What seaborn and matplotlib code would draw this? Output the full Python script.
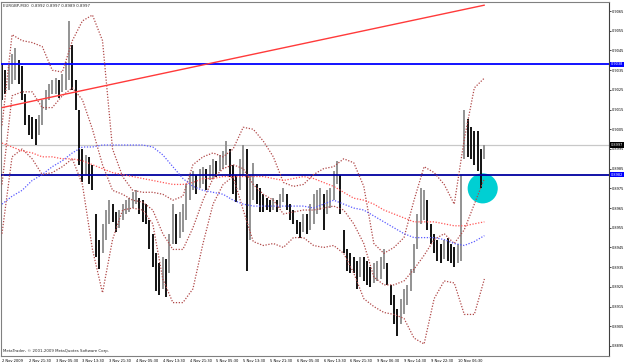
import numpy as np
import matplotlib
matplotlib.use("Agg")
import matplotlib.pyplot as plt
import seaborn as sns

# EURGBP M30 bars (grouped two by two), highs and lows
bar_highs = [0.9038, 0.9035, 0.9038, 0.9043, 0.9046, 0.9040, 0.9037, 0.9023, 0.9012, 0.9011,
             0.9010, 0.9012, 0.9020, 0.9025, 0.9028, 0.9030, 0.9031, 0.9030, 0.9033, 0.9039,
             0.9060, 0.9048, 0.9030, 0.9015, 0.8995, 0.8992, 0.8991, 0.8987, 0.8962, 0.8949,
             0.8957, 0.8964, 0.8969, 0.8967, 0.8963, 0.8964, 0.8967, 0.8969, 0.8970, 0.8973,
             0.8974, 0.8970, 0.8969, 0.8967, 0.8959, 0.8952, 0.8942, 0.8937, 0.8940, 0.8939,
             0.8952, 0.8967, 0.8962, 0.8963, 0.8967, 0.8977, 0.8982, 0.8984, 0.8982, 0.8985,
             0.8986, 0.8985, 0.8987, 0.8990, 0.8989, 0.8992, 0.8994, 0.8999, 0.8995, 0.8987,
             0.8982, 0.8990, 0.8997, 0.8995, 0.8982, 0.8988, 0.8977, 0.8975, 0.8972, 0.8970,
             0.8969, 0.8970, 0.8969, 0.8972, 0.8975, 0.8972, 0.8967, 0.8964, 0.8959, 0.8958,
             0.8962, 0.8962, 0.8967, 0.8972, 0.8974, 0.8975, 0.8972, 0.8974, 0.8975, 0.8984,
             0.8989, 0.8982, 0.8954, 0.8944, 0.8942, 0.8940, 0.8938, 0.8940, 0.8940, 0.8938,
             0.8935, 0.8937, 0.8938, 0.8940, 0.8944, 0.8937, 0.8926, 0.8921, 0.8914, 0.8919,
             0.8924, 0.8926, 0.8934, 0.8947, 0.8962, 0.8975, 0.8974, 0.8969, 0.8957, 0.8952,
             0.8949, 0.8947, 0.8949, 0.8950, 0.8947, 0.8945, 0.8947, 0.8982, 0.9015, 0.9010,
             0.9006, 0.9004, 0.9004, 0.8995, 0.8997]
bar_lows = [0.9020, 0.9023, 0.9025, 0.9028, 0.9030, 0.9028, 0.9020, 0.9007, 0.9002, 0.9000,
            0.8997, 0.9002, 0.9007, 0.9015, 0.9020, 0.9023, 0.9023, 0.9021, 0.9024, 0.9025,
            0.9030, 0.9025, 0.9015, 0.8987, 0.8978, 0.8982, 0.8977, 0.8974, 0.8940, 0.8934,
            0.8942, 0.8949, 0.8957, 0.8958, 0.8953, 0.8955, 0.8959, 0.8962, 0.8963, 0.8965,
            0.8967, 0.8962, 0.8958, 0.8957, 0.8944, 0.8935, 0.8923, 0.8921, 0.8924, 0.8920,
            0.8932, 0.8947, 0.8947, 0.8950, 0.8953, 0.8959, 0.8969, 0.8974, 0.8972, 0.8975,
            0.8977, 0.8974, 0.8979, 0.8980, 0.8981, 0.8984, 0.8985, 0.8987, 0.8981, 0.8972,
            0.8968, 0.8974, 0.8982, 0.8933, 0.8949, 0.8969, 0.8967, 0.8963, 0.8963, 0.8964,
            0.8963, 0.8964, 0.8963, 0.8965, 0.8968, 0.8964, 0.8959, 0.8957, 0.8952, 0.8950,
            0.8953, 0.8952, 0.8954, 0.8957, 0.8962, 0.8964, 0.8954, 0.8962, 0.8965, 0.8969,
            0.8977, 0.8962, 0.8942, 0.8933, 0.8932, 0.8932, 0.8924, 0.8930, 0.8928, 0.8926,
            0.8925, 0.8927, 0.8928, 0.8929, 0.8934, 0.8926, 0.8916, 0.8906, 0.8900, 0.8906,
            0.8911, 0.8916, 0.8923, 0.8932, 0.8944, 0.8957, 0.8959, 0.8954, 0.8947, 0.8942,
            0.8938, 0.8937, 0.8939, 0.8938, 0.8937, 0.8935, 0.8937, 0.8938, 0.8990, 0.8991,
            0.8990, 0.8987, 0.8984, 0.8975, 0.8990]

# bollinger bands and moving averages, one value every third bar
band_upper = [0.9007, 0.9053, 0.9050, 0.9049, 0.9047, 0.9035, 0.9034, 0.9050, 0.9060, 0.9063,
              0.9050, 0.8995, 0.8981, 0.8974, 0.8973, 0.8973, 0.8972, 0.8969, 0.8971, 0.8987,
              0.8991, 0.8993, 0.8991, 0.8995, 0.9006, 0.9005, 0.8999, 0.8991, 0.8978, 0.8976,
              0.8977, 0.8982, 0.8985, 0.8986, 0.8990, 0.8988, 0.8976, 0.8947, 0.8942, 0.8945,
              0.8950, 0.8969, 0.8986, 0.8983, 0.8977, 0.8967, 0.9000, 0.9026, 0.9031]
band_middle = [0.8977, 0.9022, 0.9024, 0.9024, 0.9016, 0.9016, 0.9022, 0.9026, 0.9020, 0.9005,
               0.8987, 0.8974, 0.8972, 0.8969, 0.8968, 0.8964, 0.8952, 0.8944, 0.8944, 0.8955,
               0.8969, 0.8980, 0.8985, 0.8987, 0.8985, 0.8977, 0.8972, 0.8969, 0.8962, 0.8963,
               0.8964, 0.8964, 0.8965, 0.8966, 0.8964, 0.8957, 0.8947, 0.8930, 0.8926, 0.8926,
               0.8928, 0.8934, 0.8941, 0.8949, 0.8952, 0.8947, 0.8954, 0.8967, 0.8980]
band_lower = [0.8952, 0.8991, 0.8995, 0.8990, 0.8982, 0.8983, 0.8986, 0.8990, 0.8977, 0.8944,
              0.8922, 0.8949, 0.8964, 0.8965, 0.8964, 0.8957, 0.8929, 0.8917, 0.8917, 0.8924,
              0.8947, 0.8967, 0.8977, 0.8981, 0.8964, 0.8948, 0.8946, 0.8947, 0.8945, 0.8950,
              0.8950, 0.8946, 0.8945, 0.8946, 0.8942, 0.8932, 0.8919, 0.8915, 0.8912, 0.8911,
              0.8909, 0.8899, 0.8896, 0.8919, 0.8928, 0.8927, 0.8911, 0.8911, 0.8929]
ma_red = [0.8998, 0.8996, 0.8994, 0.8993, 0.8991, 0.8991, 0.8990, 0.8990, 0.8989, 0.8987,
          0.8985, 0.8983, 0.8982, 0.8981, 0.8980, 0.8979, 0.8978, 0.8977, 0.8977, 0.8978,
          0.8980, 0.8980, 0.8981, 0.8981, 0.8981, 0.8981, 0.8981, 0.8980, 0.8979, 0.8980,
          0.8981, 0.8980, 0.8978, 0.8976, 0.8973, 0.8970, 0.8969, 0.8967, 0.8964, 0.8962,
          0.8960, 0.8958, 0.8958, 0.8958, 0.8957, 0.8956, 0.8956, 0.8957, 0.8958]
ma_blue = [0.8967, 0.8971, 0.8974, 0.8979, 0.8982, 0.8986, 0.8989, 0.8993, 0.8996, 0.8996,
           0.8997, 0.8997, 0.8997, 0.8997, 0.8997, 0.8996, 0.8992, 0.8986, 0.8980, 0.8976,
           0.8974, 0.8973, 0.8972, 0.8969, 0.8967, 0.8966, 0.8966, 0.8966, 0.8966, 0.8966,
           0.8966, 0.8965, 0.8967, 0.8969, 0.8967, 0.8965, 0.8964, 0.8961, 0.8958, 0.8955,
           0.8952, 0.8950, 0.8950, 0.8950, 0.8949, 0.8947, 0.8946, 0.8948, 0.8951]

time_labels = ["2 Nov 2009", "2 Nov 21:30", "3 Nov 05:30", "3 Nov 13:30", "3 Nov 21:30",
               "4 Nov 05:30", "4 Nov 13:30", "4 Nov 21:30", "5 Nov 05:30", "5 Nov 13:30",
               "5 Nov 21:30", "6 Nov 05:30", "6 Nov 13:30", "6 Nov 21:30", "9 Nov 06:30",
               "9 Nov 14:30", "9 Nov 22:30", "10 Nov 06:30"]
price_ticks = [0.9065, 0.9055, 0.9045, 0.9035, 0.9025, 0.9015, 0.9005, 0.8995, 0.8985,
               0.8975, 0.8965, 0.8955, 0.8945, 0.8935, 0.8925, 0.8915, 0.8905, 0.8895]
level_high = 0.9038
level_low = 0.8982
last_price = 0.8997
trend_pos = [0, 144]
trend_price = [0.9016, 0.9068]
highlight = (143.5, 0.8975)
header = "EURGBP,M30  0.8992 0.8997 0.8989 0.8997"
footer = "MetaTrader, \u00a9 2001-2009 MetaQuotes Software Corp."

sns.set_style("white")
plt.rcParams["font.family"] = ["DejaVu Sans"]

fig = plt.figure(figsize=(6.25, 3.64), dpi=100)
ax = fig.add_axes([1 / 625, 8 / 364, 608 / 625, 354 / 364])

bars = np.arange(len(bar_highs))
band_x = np.arange(0, len(bar_highs), 3)

# horizontal levels
ax.axhline(last_price, color="#c8c8c8", lw=0.9, zorder=1)
ax.axhline(level_high, color="#0000ff", lw=1.3, zorder=3)
ax.axhline(level_low, color="#0000a0", lw=1.3, zorder=3)

# highlight circle
sns.scatterplot(x=[highlight[0]], y=[highlight[1]], s=470, color="#00cfd3",
                edgecolor="none", ax=ax, zorder=1.5, legend=False)

# price bars
mid = (np.array(bar_highs) + np.array(bar_lows)) / 2
up = np.r_[False, mid[1:] > mid[:-1]]
cols = np.where(up, "#8a8a8a", "#000000")
ax.vlines(bars, bar_lows, bar_highs, colors=cols, lw=1.3, zorder=2)

dots = (0, (1, 1.3))
for vals, c in [(band_upper, "#b04848"), (band_middle, "#b04848"), (band_lower, "#b04848"),
                (ma_red, "#ff5555"), (ma_blue, "#5a5aff")]:
    sns.lineplot(x=band_x, y=vals, color=c, lw=0.9, linestyle=dots, ax=ax, zorder=4)

sns.lineplot(x=trend_pos, y=trend_price, color="#ff3a3a", lw=1.0, ax=ax, zorder=4)

ax.set_xlim(-0.3, 181.2)
ax.set_ylim(0.88899, 0.90696)

ax.yaxis.tick_right()
ax.set_yticks(price_ticks)
ax.set_yticklabels([f"{p:.4f}" for p in price_ticks])
ax.set_xticks(np.arange(0, 8 * len(time_labels), 8))
ax.set_xticklabels(time_labels, ha="left")
ax.tick_params(axis="y", labelsize=2.5, length=1.5, width=0.5, pad=0.6, colors="#000000")
ax.tick_params(axis="x", labelsize=2.6, length=1.5, width=0.5, pad=0.3, colors="#000000")
ax.set_xlabel("")
ax.set_ylabel("")
for s in ax.spines.values():
    s.set_color("#808080")
    s.set_linewidth(0.8)
ax.spines["right"].set_color("#404040")

ytr = ax.get_yaxis_transform()
for val, bg in [(level_high, "#0000ff"), (level_low, "#0000ff"), (last_price, "#000000")]:
    ax.text(1.0035, val, f"{val:.4f}", transform=ytr, fontsize=2.5, color="white",
            va="center", ha="left", zorder=6,
            bbox=dict(facecolor=bg, edgecolor="none", pad=0.5))

ax.text(0.003, 0.993, header, transform=ax.transAxes, fontsize=2.8, va="top", ha="left")
ax.text(0.003, 0.008, footer, transform=ax.transAxes, fontsize=2.8, va="bottom", ha="left")

fig.savefig("out.png", dpi=100, facecolor="white")
